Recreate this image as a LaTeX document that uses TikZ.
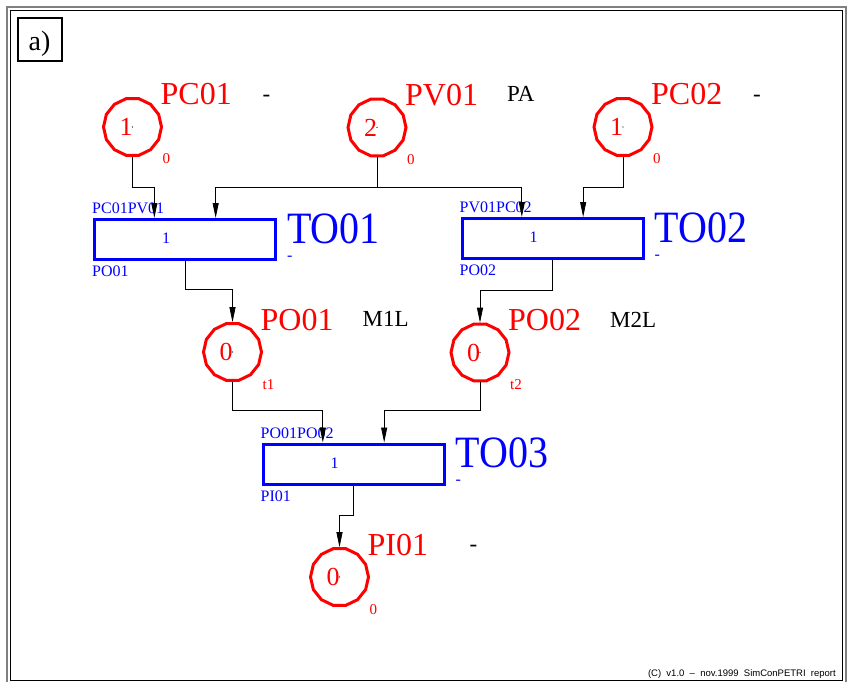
\documentclass[tikz,border=0pt]{standalone}
\usepackage{fontspec}
\setmainfont{Liberation Serif}
\newfontfamily\cpfont{Liberation Sans}
\usetikzlibrary{shapes.geometric,arrows.meta,calc}
\definecolor{pnred}{RGB}{255,0,0}
\definecolor{pnblue}{RGB}{0,0,255}
\tikzset{
  place/.style={draw=pnred, line width=3pt, regular polygon, regular polygon sides=14,
    minimum size=58pt, inner sep=0pt},
  trans/.style={draw=pnblue, line width=3pt, rectangle, minimum width=181pt,
    minimum height=40pt, inner sep=0pt},
  arc/.style={draw=black, line width=0.8pt, -{Triangle[length=15pt,width=6pt]}},
  plain/.style={draw=black, line width=0.8pt},
  txt/.style={inner sep=0pt, anchor=base west},
  pname/.style={txt, text=pnred, font=\fontsize{32}{32}\selectfont},
  pattr/.style={txt, text=black, font=\fontsize{23}{23}\selectfont},
  ptime/.style={txt, text=pnred, font=\fontsize{15}{15}\selectfont},
  ptok/.style={inner sep=0pt, anchor=center, text=pnred, font=\fontsize{26}{26}\selectfont},
  tname/.style={txt, text=pnblue, font=\fontsize{40}{40}\selectfont},
  tsmall/.style={txt, text=pnblue, font=\fontsize{16}{16}\selectfont},
  tval/.style={inner sep=0pt, anchor=center, text=pnblue, font=\fontsize{16}{16}\selectfont},
}
\newcommand{\mkplace}[7]{% name, x, y, token, label, attr, time
  \node[place] (#1) at (#2,#3) {};
  \fill (#1.center) circle (0.6);
  \node[ptok] (#1tok) at ($(#1.center)+(-6.5,0)$) {#4};
  \node[pname] (#1name) at ($(#1.center)+(28,-22)$) {#5};
  \node[pattr] (#1attr) at ($(#1.center)+(130,-25.5)$) {#6};
  \node[ptime] (#1time) at ($(#1.center)+(30,37)$) {#7};
}
\newcommand{\mktrans}[6]{% name, x, y, inputs, outputs, label
  \node[trans] (#1) at (#2,#3) {};
  \node[tval] (#1val) at ($(#1.west)+(73,-1)$) {1};
  \node[tsmall] (#1in) at ($(#1.north west)+(-1,-4.5)$) {#4};
  \node[tsmall] (#1out) at ($(#1.south west)+(-1,15.7)$) {#5};
  \node[tname] (#1name) at ($(#1.south east)+(10,-18)$) {\scalebox{1}[1.12]{#6}};
  \node[tsmall] (#1dash) at ($(#1.south east)+(10,-1)$) {-};
  \coordinate (#1i1) at ($(#1.north west)!1/3!(#1.north east)$);
  \coordinate (#1i2) at ($(#1.north west)!2/3!(#1.north east)$);
}
\begin{document}
\begin{tikzpicture}[x=1pt,y=-1pt]
\useasboundingbox (0,0) rectangle (849,682);
\fill[white] (0,0) rectangle (849,682);
% frame
\draw[gray, line width=2pt] (7,7) rectangle (846,686);
\draw[black, line width=1.5pt] (10.5,10.5) rectangle (842.5,680.5);
\node[draw, line width=1.8pt, minimum width=44pt, minimum height=43pt, inner sep=0pt] (abox) at (40,39.5) {};
\node[inner sep=0pt, anchor=base, font=\fontsize{28}{28}\selectfont] (alabel) at (39.5,50.5) {a)};

% places
\mkplace{pc01}{132.5}{127}{1}{PC01}{-}{0}
\mkplace{pv01}{377}{127.5}{2}{PV01}{PA}{0}
\mkplace{pc02}{623}{127}{1}{PC02}{-}{0}
\mkplace{po01}{232.5}{352}{0}{PO01}{M1L}{t1}
\mkplace{po02}{480}{352.5}{0}{PO02}{M2L}{t2}
\mkplace{pi01}{339.5}{577}{0}{PI01}{-}{0}

% transitions
\mktrans{to01}{185}{239.5}{PC01PV01}{PO01}{TO01}
\mktrans{to02}{552.5}{238.5}{PV01PC02}{PO02}{TO02}
\mktrans{to03}{353.5}{464}{PO01PO02}{PI01}{TO03}

% arcs
\draw[arc] (pc01.south) -- ++(0,31) -| (to01i1);
\draw[plain] (pv01.south) -- ++(0,30) coordinate (pvj);
\draw[arc] (pvj) -| (to01i2);
\draw[arc] (pvj) -| (to02i1);
\draw[arc] (pc02.south) -- ++(0,31) -| (to02i2);
\draw[arc] (to01.south) -- ++(0,28) -| (po01.north);
\draw[arc] (to02.south) -- ++(0,30) -| (po02.north);
\draw[arc] (po01.south) -- ++(0,29) -| (to03i1);
\draw[arc] (po02.south) -- ++(0,28) -| (to03i2);
\draw[arc] (to03.south) -- ++(0,30) -| (pi01.north);

% footer
\node[inner sep=0pt, anchor=base east, font=\cpfont\fontsize{9.5}{9.5}\selectfont] (copy) at (836,676) {(C)\ \ v1.0\ \ –\ \ nov.1999\ \ SimConPETRI\ \ report};
\end{tikzpicture}
\end{document}
